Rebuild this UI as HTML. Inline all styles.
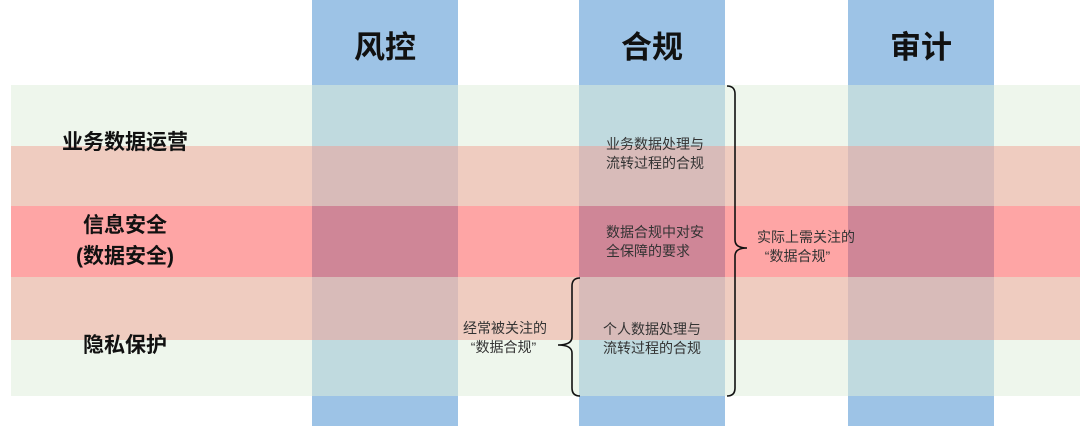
<!DOCTYPE html>
<html><head><meta charset="utf-8"><style>
body{margin:0;width:1080px;height:426px;background:#fff;position:relative;overflow:hidden;font-family:"Liberation Sans","Noto Sans CJK SC",sans-serif}
div{position:absolute}
.b{left:11px;width:1069px}
.h{top:22px;font-size:31px;font-weight:bold;color:#111;text-align:center;width:146px}
.l{font-size:21px;font-weight:bold;color:#111;text-align:center;width:300px;line-height:31px}
.s{font-size:14px;color:#333;line-height:19px;white-space:nowrap}
</style></head><body>
<div class="b" style="top:85px;height:61px;background:#eef6ec"></div>
<div class="b" style="top:146px;height:60px;background:#efccc0"></div>
<div class="b" style="top:206px;height:71px;background:#fea5a5"></div>
<div class="b" style="top:277px;height:63px;background:#efccc0"></div>
<div class="b" style="top:340px;height:56px;background:#eef6ec"></div>
<svg width="1080" height="426" style="position:absolute;left:0;top:0">
<defs><g id="col">
<rect x="0" y="0" width="146" height="85" fill="#9dc3e6"/>
<rect x="0" y="85" width="146" height="61" fill="#c0dadf"/>
<rect x="0" y="146" width="146" height="60" fill="#d8bbb9"/>
<rect x="0" y="206" width="146" height="71" fill="#cf8697"/>
<rect x="0" y="277" width="146" height="63" fill="#d8bbb9"/>
<rect x="0" y="340" width="146" height="56" fill="#c0dadf"/>
<rect x="0" y="396" width="146" height="30" fill="#9dc3e6"/>
</g></defs>
<use href="#col" x="312"/>
<use href="#col" x="579"/>
<use href="#col" x="848"/>
</svg>
<div class="h" style="left:312px">风控</div>
<div class="h" style="left:579px">合规</div>
<div class="h" style="left:848px">审计</div>
<div class="l" style="left:-25px;top:127px">业务数据运营</div>
<div class="l" style="left:-25px;top:210px">信息安全<br>(数据安全)</div>
<div class="l" style="left:-25px;top:330px">隐私保护</div>
<div class="s" style="left:606px;top:135px">业务数据处理与<br>流转过程的合规</div>
<div class="s" style="left:606px;top:223px">数据合规中对安<br>全保障的要求</div>
<div class="s" style="left:603px;top:320px">个人数据处理与<br>流转过程的合规</div>
<div class="s" style="left:757px;top:228px">实际上需关注的<br>&nbsp;&nbsp;“数据合规”</div>
<div class="s" style="left:463px;top:319px">经常被关注的<br>&nbsp;&nbsp;“数据合规”</div>
<svg width="1080" height="426" style="position:absolute;left:0;top:0">
<path d="M727 86 Q735 86 735 94 L735 240 Q735 248 747 248 Q735 248 735 256 L735 388 Q735 396 727 396" fill="none" stroke="#111" stroke-width="1.6"/>
<path d="M580 278 Q572 278 572 286 L572 337 Q572 345 558 345 Q572 345 572 353 L572 388 Q572 396 580 396" fill="none" stroke="#111" stroke-width="1.6"/>
</svg>
</body></html>
